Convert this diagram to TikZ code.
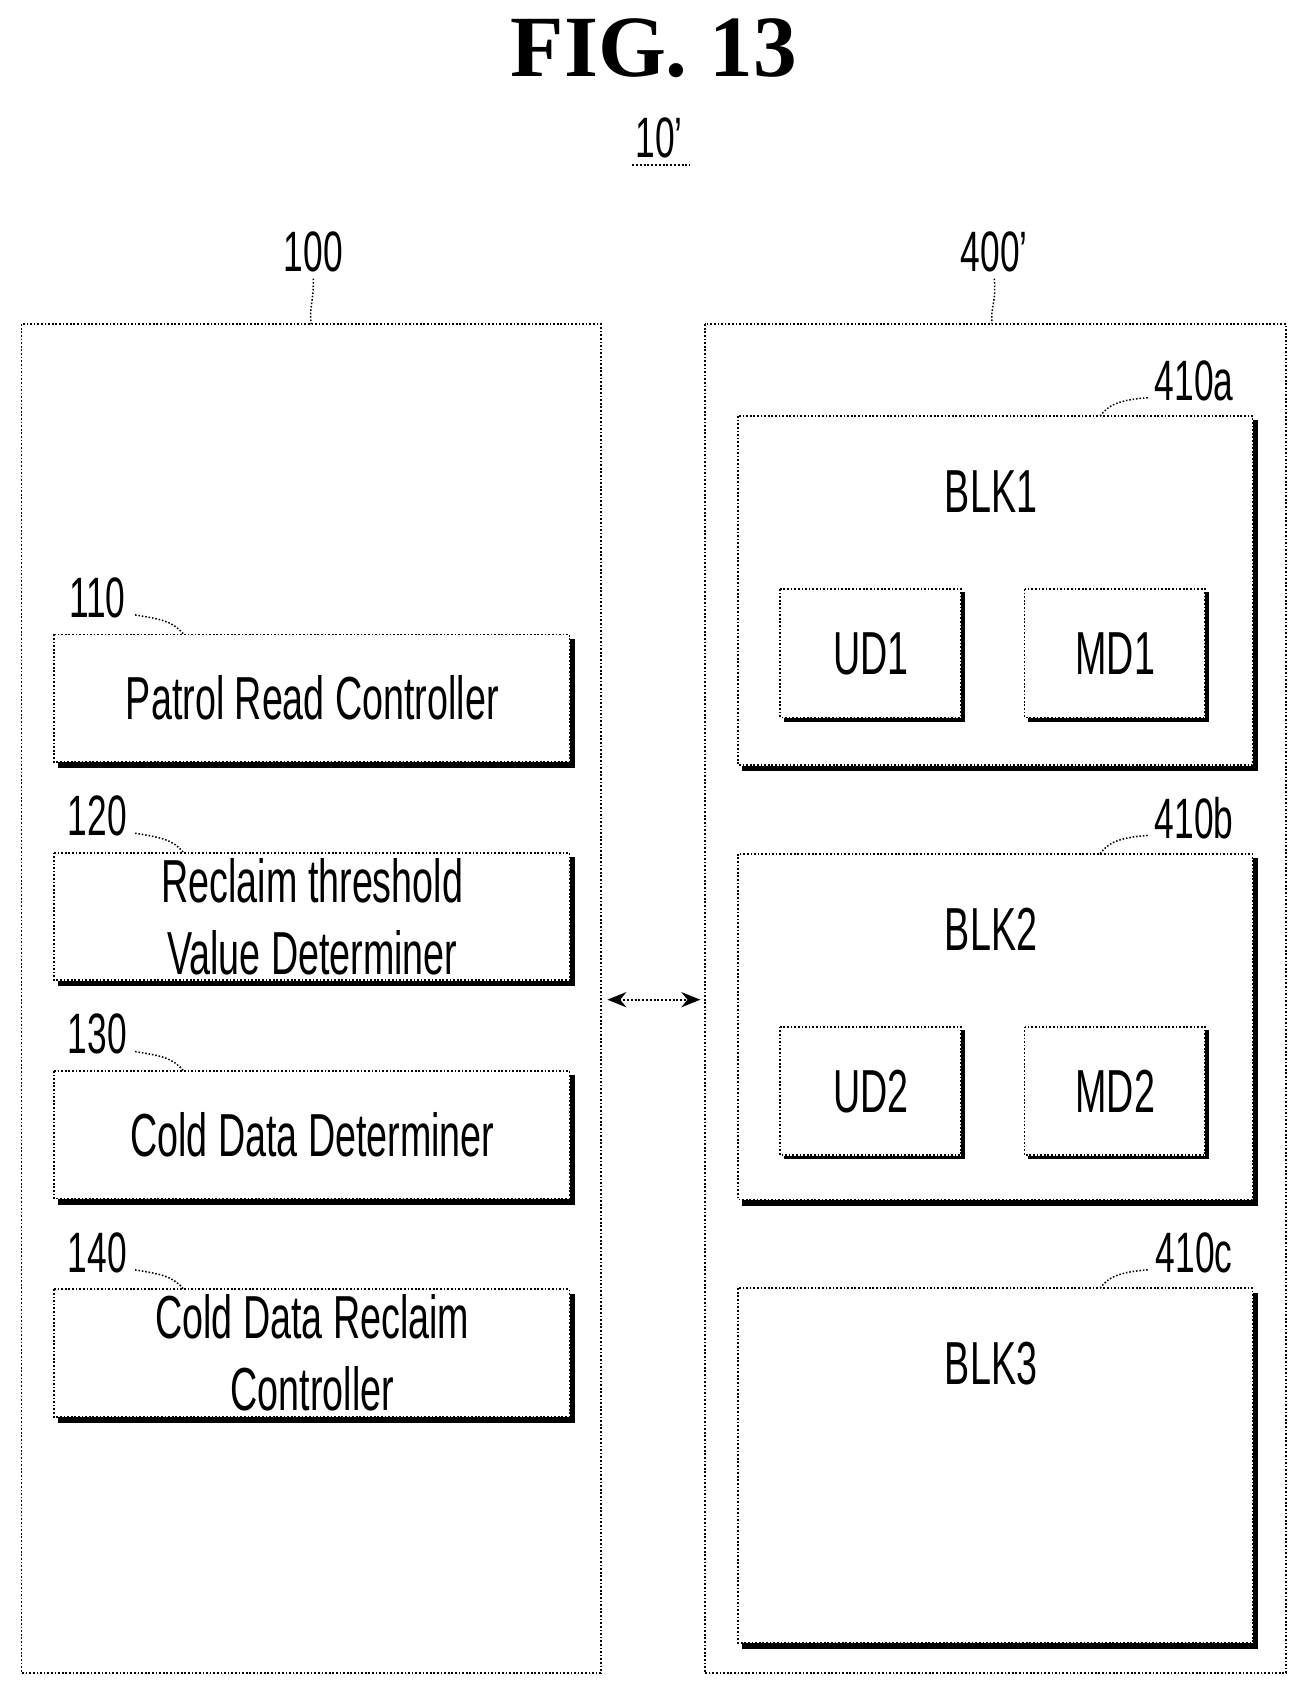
\documentclass[tikz,border=0pt]{standalone}
\usepackage{fontspec}
\setmainfont{Liberation Sans}[FakeStretch=0.62]
\newfontfamily\titlefont{Liberation Serif}
\usetikzlibrary{arrows.meta}
\begin{document}
\begin{tikzpicture}[x=0.02cm,y=-0.02cm,
  outer/.style={draw,densely dotted,line width=0.9pt},
  blk/.style={draw,densely dotted,line width=0.9pt,fill=white},
  shad/.style={line width=3pt},
  txt/.style={font=\fontsize{32}{38}\selectfont,align=center},
  lbl/.style={font=\fontsize{30}{34}\selectfont},
  sq/.style={line width=0.8pt,densely dotted}]
\useasboundingbox (0,0) rectangle (1213,1573);
\node (title) at (605,45) {\titlefont\bfseries\fontsize{46}{50}\selectfont FIG. 13};
\node[lbl] (ten) at (610,128) {10'};
\draw[densely dotted,line width=1pt] (585,153) -- (638,153);
% outer boxes
\draw[outer] (20,300) rectangle (556,1548);
\draw[outer] (652,300) rectangle (1190,1548);
\node[lbl] (l100) at (290,233) {100};
\node[lbl] (l400) at (920,233) {400'};
\coordinate (c100) at (288,300);
\coordinate (c400) at (918,300);
\draw[sq] (l100.south) .. controls (290,280) and (286,285) .. (c100);
\draw[sq] (l400.south) .. controls (922,280) and (916,285) .. (c400);
% left boxes
\foreach \n/\y/\t in {110/587/Patrol Read Controller,120/789/{Reclaim threshold\\Value Determiner},130/991/Cold Data Determiner,140/1193/{Cold Data Reclaim\\Controller}}{
  \draw[shad] (54,\y+121) -- (529,\y+121) -- (529,\y+4);
  \draw[blk] (50,\y) rectangle (527,\y+118);
  \node[txt] (b\n) at (289,\y+59) {\t};
  \node[lbl] (t\n) at (90,\y-34) {\n};
  \draw[sq] (125,\y-18) .. controls (150,\y-14) and (160,\y-12) .. (170,\y);
}
% right blocks
\foreach \n/\y/\h/\t in {410a/385/323/BLK1,410b/790/320/BLK2,410c/1192/328/BLK3}{
  \draw[shad] (687,\y+\h+3) -- (1161,\y+\h+3) -- (1161,\y+4);
  \draw[blk] (683,\y) rectangle (1159,\y+\h);
  \node[txt] (n\n) at (917,\y+70) {\t};
  \node[lbl] (t\n) at (1105,\y-33) {\n};
  \draw[sq] (1062,\y-17) .. controls (1035,\y-15) and (1025,\y-10) .. (1018,\y);
}
\foreach \x/\y/\t in {722/545/UD1,948/545/MD1,722/950/UD2,948/950/MD2}{
  \draw[line width=2pt] (\x+3,\y+121) -- (\x+169,\y+121) -- (\x+169,\y+3);
  \draw[blk] (\x,\y) rectangle (\x+167,\y+119);
  \node[txt] (\t) at (\x+84,\y+60) {\t};
}
\coordinate (al) at (562,925);
\coordinate (ar) at (648,925);
\draw[densely dotted,line width=1pt,{Stealth[length=10pt,width=8pt]}-{Stealth[length=10pt,width=8pt]}] (al) -- (ar);
\end{tikzpicture}
\end{document}
